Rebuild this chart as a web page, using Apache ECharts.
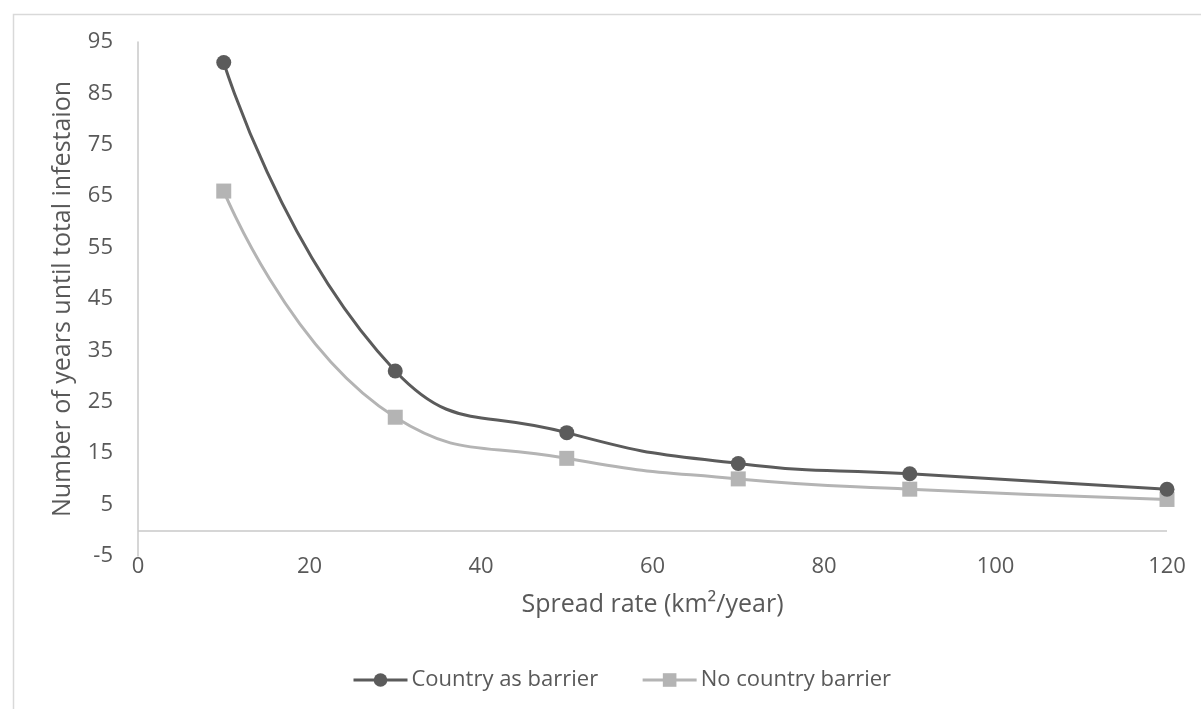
<!DOCTYPE html>
<html>
<head>
<meta charset="utf-8">
<script src="https://cdn.jsdelivr.net/npm/echarts@6/dist/echarts.min.js"></script>
<style>
html,body{margin:0;padding:0;background:#fff;}
#chart{width:1201px;height:709px;}
</style>
</head>
<body>
<div id="chart"></div>
<script>
const spreadRate = [10, 30, 50, 70, 90, 120];
const countryAsBarrier = [91, 31, 19, 13, 11, 8];
const noCountryBarrier = [66, 22, 14, 10, 8, 6];
const seriesNames = ['Country as barrier', 'No country barrier'];
const xTitle = 'Spread rate (km\u00b2/year)';
const yTitle = 'Number of years until total infestaion';

const FONT = '"Open Sans", "Noto Sans", sans-serif';
const TXT = '#595959';

function pairs(xs, ys) { return xs.map((x, i) => [x, ys[i]]); }

const chart = echarts.init(document.getElementById('chart'), null, {renderer: 'canvas'});
chart.setOption({
  animation: false,
  backgroundColor: '#ffffff',
  textStyle: {fontFamily: FONT, color: TXT},
  graphic: [{
    type: 'rect', left: 11, top: 12, silent: true,
    shape: {width: 1250, height: 800},
    style: {fill: 'none', stroke: '#d9d9d9', lineWidth: 1.5}
  }],
  grid: {left: 138, right: 34, top: 42, bottom: 153},
  legend: {
    left: 347, top: 664,
    itemWidth: 54, itemHeight: 17, itemGap: 43,
    lineStyle: {width: 3},
    textStyle: {fontFamily: FONT, fontSize: 22, color: TXT, padding: [0, 0, 0, -1]},
    data: seriesNames
  },
  xAxis: {
    type: 'value', min: 0, max: 120, interval: 20,
    name: xTitle, nameLocation: 'middle', nameGap: 36,
    nameTextStyle: {fontFamily: FONT, fontSize: 25, color: TXT},
    axisLine: {show: false, onZero: false},
    axisTick: {show: false},
    splitLine: {show: false},
    axisLabel: {fontFamily: FONT, fontSize: 22, color: TXT, margin: 0}
  },
  yAxis: {
    type: 'value', min: -5, max: 95, interval: 10,
    name: yTitle, nameLocation: 'middle', nameGap: 63,
    nameTextStyle: {fontFamily: FONT, fontSize: 25, color: TXT},
    axisLine: {show: true, onZero: false, lineStyle: {color: '#c8c8c8', width: 1.5}},
    axisTick: {show: false},
    splitLine: {show: false},
    axisLabel: {fontFamily: FONT, fontSize: 22, color: TXT, margin: 25}
  },
  series: [
    {
      name: seriesNames[0], type: 'line', smooth: 0.5,
      data: pairs(spreadRate, countryAsBarrier),
      symbol: 'circle', symbolSize: 15,
      lineStyle: {color: '#5b5b5b', width: 3},
      itemStyle: {color: '#5b5b5b'},
      z: 3,
      markLine: {
        silent: true, symbol: 'none', animation: false,
        label: {show: false},
        lineStyle: {color: '#c8c8c8', width: 1.5, type: 'solid'},
        emphasis: {disabled: true},
        data: [{yAxis: 0}]
      }
    },
    {
      name: seriesNames[1], type: 'line', smooth: 0.5,
      data: pairs(spreadRate, noCountryBarrier),
      symbol: 'rect', symbolSize: 15,
      lineStyle: {color: '#b4b4b4', width: 3},
      itemStyle: {color: '#b4b4b4'},
      z: 2
    }
  ]
});
</script>
</body>
</html>
